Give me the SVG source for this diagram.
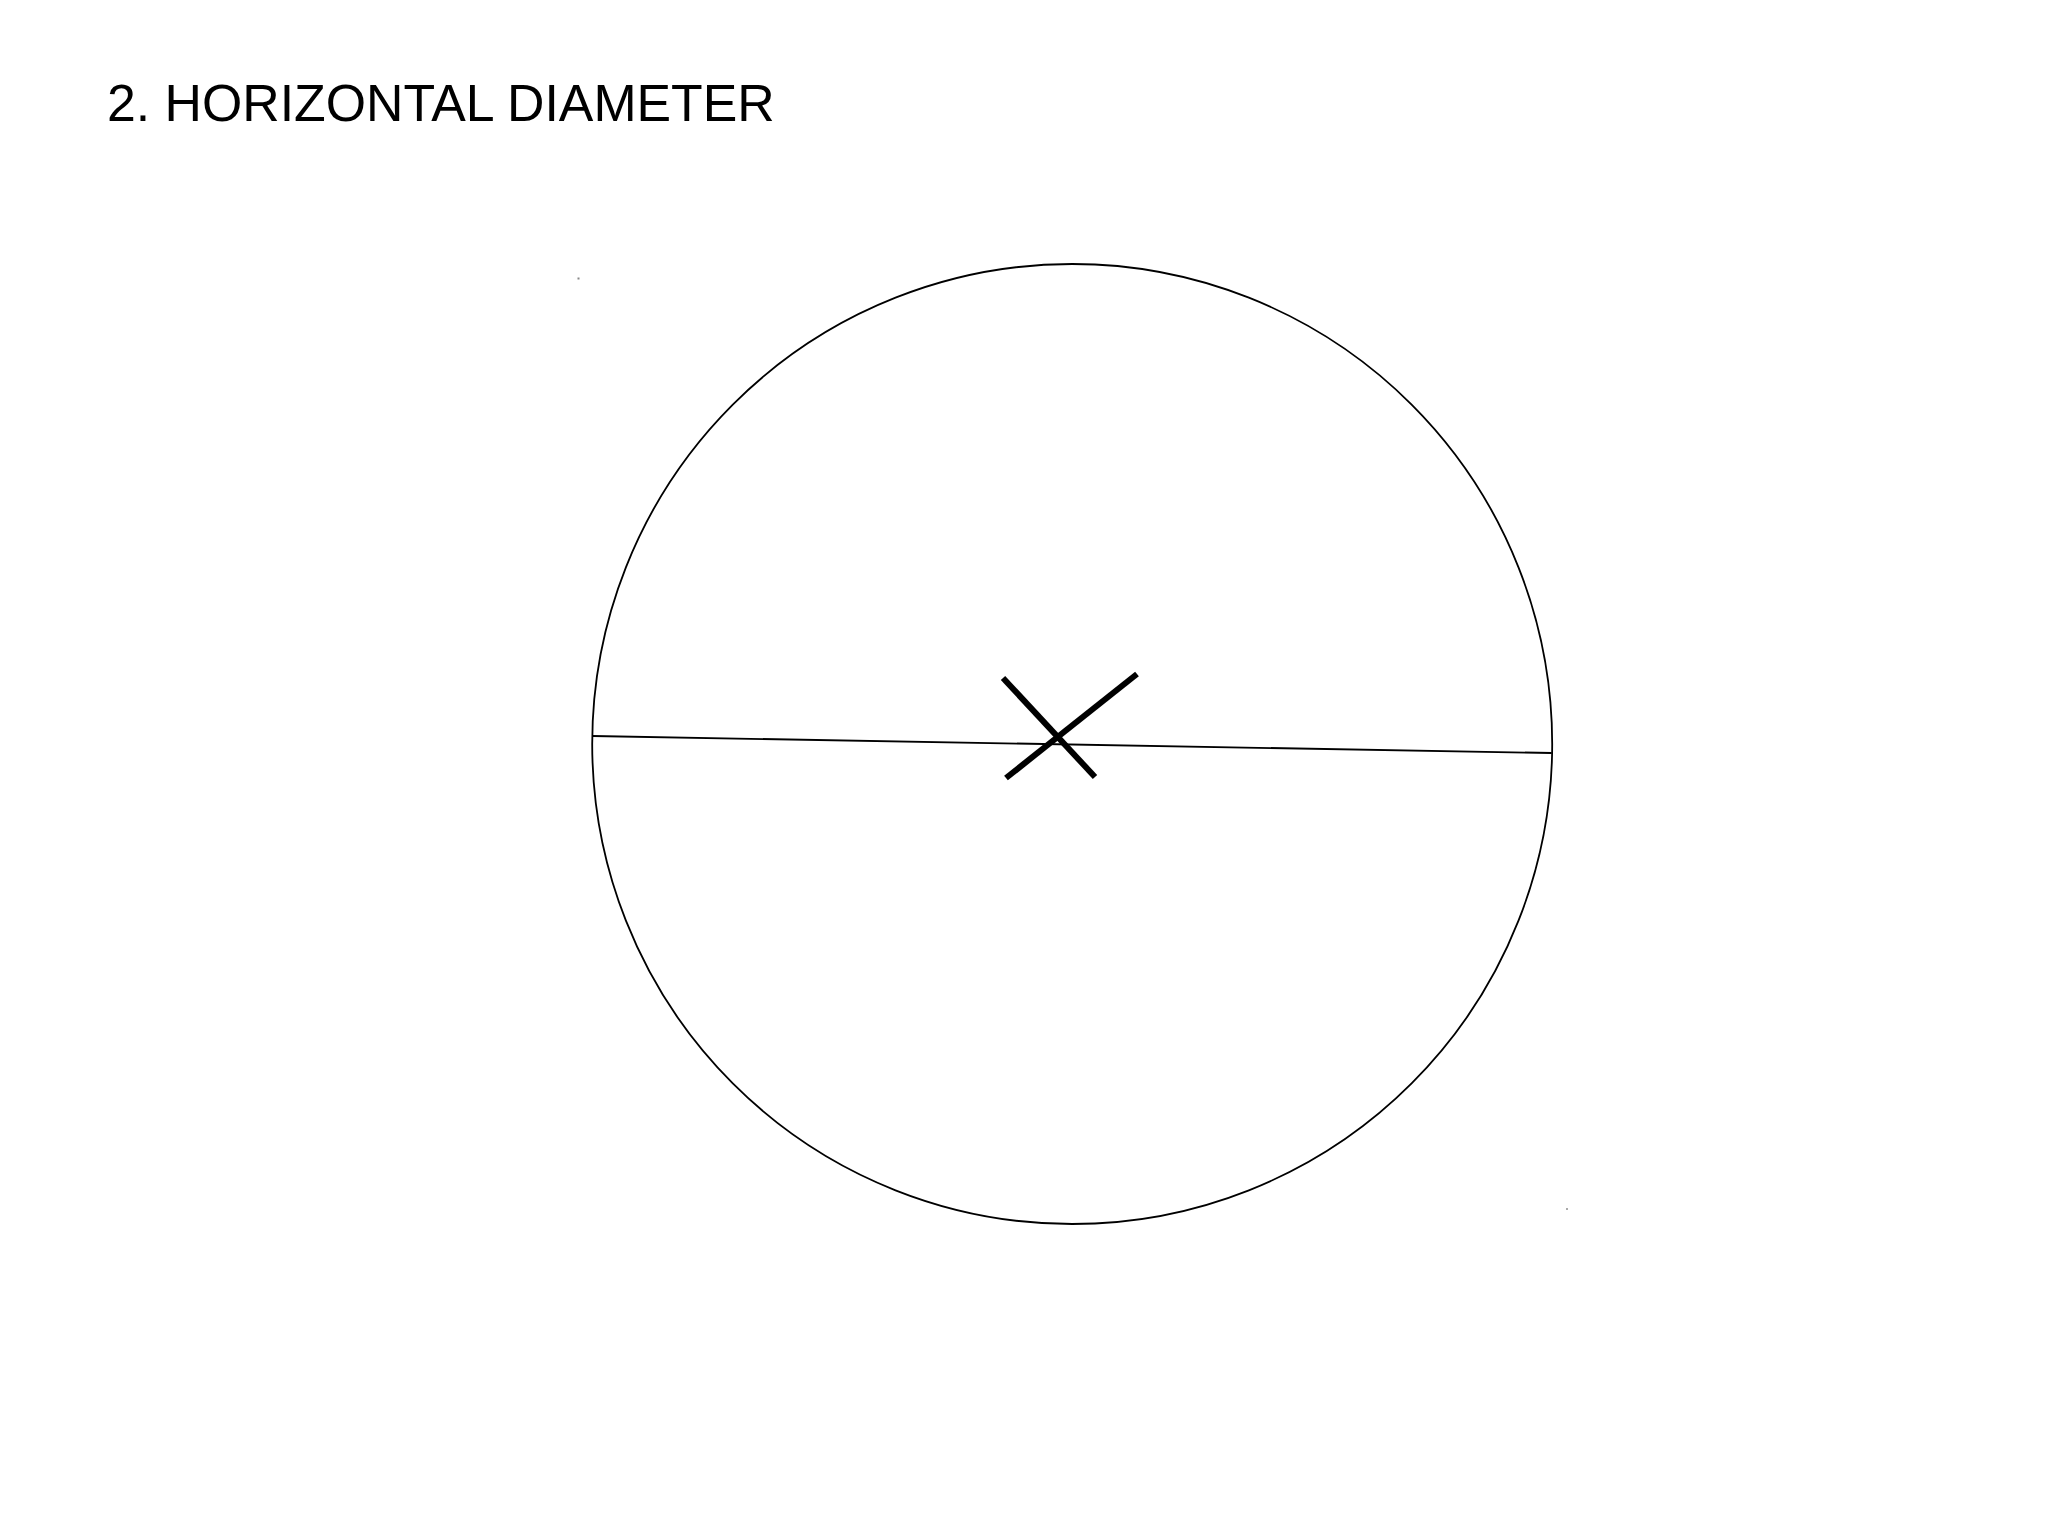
<svg xmlns="http://www.w3.org/2000/svg" width="2048" height="1536" viewBox="0 0 2048 1536">
<style>
.thin{fill:none;stroke:#000;stroke-width:1.8}
.mark{fill:none;stroke:#000;stroke-width:6;stroke-linecap:butt}
.title{font-family:"Liberation Sans",Arial,sans-serif;font-size:51.8px;fill:#000}
</style>
<rect width="2048" height="1536" fill="#fff"/>
<text class="title" x="107" y="121">2. HORIZONTAL DIAMETER</text>
<g id="circle">
<circle class="thin" cx="1072.2" cy="744" r="480"/>
</g>
<g id="connectors">
<line class="thin" x1="592.7" y1="736" x2="1551.7" y2="753"/>
</g>
<g id="center-mark">
<line class="mark" x1="1003" y1="678" x2="1095" y2="777"/>
<line class="mark" x1="1137" y1="674" x2="1006" y2="778"/>
</g>
<rect x="577.5" y="277.5" width="2" height="2" fill="#888"/>
<rect x="1566" y="1208" width="2" height="2" fill="#aaa"/>
</svg>
